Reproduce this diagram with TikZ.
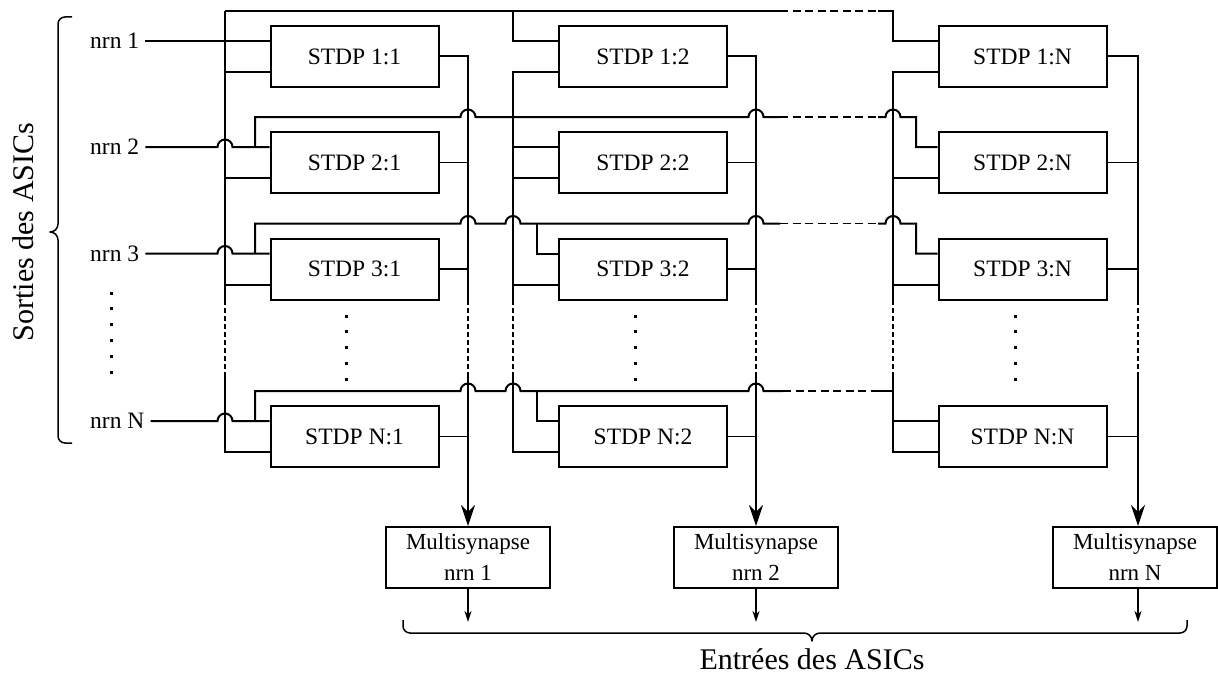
\documentclass[tikz,border=0pt]{standalone}
\usepackage{fontspec}
\setmainfont{Liberation Serif}
\usetikzlibrary{arrows.meta}
\tikzset{
  bigtip/.tip={Stealth[length=21pt,width=14pt,inset=7pt]},
  smalltip/.tip={Stealth[length=11pt,width=7pt,inset=3.5pt]},
  wire/.style={line width=2pt},
  thin wire/.style={line width=1.4pt},
  vgap/.style={line width=1.7pt,dash pattern=on 5pt off 3pt},
  hgap/.style={line width=1.8pt,dash pattern=on 8pt off 4.5pt},
  stdp/.style={draw,line width=2pt,minimum width=168pt,minimum height=61pt,inner sep=0pt,
    font=\fontsize{23.5}{28}\selectfont},
  msyn/.style={draw,line width=2pt,minimum width=164pt,minimum height=61pt,inner sep=0pt,
    align=center,font=\fontsize{23}{31}\selectfont},
  lbl/.style={anchor=west,inner sep=2pt,font=\fontsize{23.5}{28}\selectfont},
  big/.style={inner sep=0pt,font=\fontsize{30}{36}\selectfont},
  bracket/.style={line width=1.5pt,line join=round},
  % a small semicircular bridge where a wire crosses another without contact
  hop/.style 2 args={insert path={-- ({#1-7.5},#2) arc[start angle=180,end angle=0,radius=7.5pt]}}
}
\begin{document}
\begin{tikzpicture}[x=1pt,y=-1pt]
\useasboundingbox (0,0) rectangle (1218,677);

% ---------- STDP matrix ----------
\node[stdp] (s11) at (354.5,56.5) {STDP 1:1};
\node[stdp] (s12) at (643,56.5)   {STDP 1:2};
\node[stdp] (s1N) at (1022.5,56.5){STDP 1:N};
\node[stdp] (s21) at (354.5,162.5){STDP 2:1};
\node[stdp] (s22) at (643,162.5)  {STDP 2:2};
\node[stdp] (s2N) at (1022.5,162.5){STDP 2:N};
\node[stdp] (s31) at (354.5,269)  {STDP 3:1};
\node[stdp] (s32) at (643,269)    {STDP 3:2};
\node[stdp] (s3N) at (1022.5,269) {STDP 3:N};
\node[stdp] (sN1) at (354.5,436.5){STDP N:1};
\node[stdp] (sN2) at (643,436.5)  {STDP N:2};
\node[stdp] (sNN) at (1022.5,436.5){STDP N:N};

% ---------- multisynapse blocks ----------
\node[msyn] (m1) at (468,557.5)  {Multisynapse\\nrn 1};
\node[msyn] (m2) at (756,557.5)  {Multisynapse\\nrn 2};
\node[msyn] (mN) at (1135,557.5) {Multisynapse\\nrn N};

% ---------- neuron labels ----------
\node[lbl] (l1) at (88,41)    {nrn 1};
\node[lbl] (l2) at (88,147)   {nrn 2};
\node[lbl] (l3) at (88,253.5) {nrn 3};
\node[lbl] (lN) at (88,421)   {nrn N};

\node[big,rotate=90] (outs) at (23,232) {Sorties des ASICs};
\node[big] (ins) at (812,659) {Entrées des ASICs};

% output columns
\coordinate (o1) at (468,376);
\coordinate (o2) at (756,376);
\coordinate (oN) at (1138,376);
\coordinate (e1) at (468,622);
\coordinate (e2) at (756,622);
\coordinate (eN) at (1138,622);

% ---------- row 1 (nrn 1) ----------
\draw[wire] ([xshift=4pt]l1.east) -- ([yshift=15.5pt]s11.west);
\draw[wire] (225,11) -- (780,11);
\draw[hgap] (780,11) -- (878,11);
\draw[wire] (878,11) -- (893,11) |- ([yshift=15.5pt]s1N.west);
\draw[wire] (513,11) |- ([yshift=15.5pt]s12.west);
% column buses (post-synaptic inputs)
\draw[wire] (225,11) -- (225,300);
\draw[vgap] (225,300) -- (225,374);
\draw[wire] (225,374) |- ([yshift=-15.5pt]sN1.west);
\draw[wire] (225,72) -- ([yshift=-15.5pt]s11.west);
\draw[wire] ([yshift=-15.5pt]s12.west) -| (513,300);
\draw[vgap] (513,300) -- (513,374);
\draw[wire] (513,374) |- ([yshift=-15.5pt]sN2.west);
\draw[wire] ([yshift=-15.5pt]s1N.west) -| (893,300);
\draw[vgap] (893,300) -- (893,374);
\draw[wire] (893,374) |- ([yshift=-15.5pt]sNN.west);

% ---------- row 2 (nrn 2) ----------
\draw[wire] ([xshift=4pt]l2.east) [hop={225}{147}] -- ([yshift=15.5pt]s21.west);
\draw[wire] (255,147) -- (255,117) [hop={468}{117}] [hop={756}{117}] -- (780,117);
\draw[hgap] (780,117) -- (878,117);
\draw[wire] (878,117) [hop={893}{117}] -- (916,117) |- ([yshift=15.5pt]s2N.west);
\draw[wire] (513,147) -- ([yshift=15.5pt]s22.west);
\draw[wire] (225,178) -- ([yshift=-15.5pt]s21.west);
\draw[wire] (513,178) -- ([yshift=-15.5pt]s22.west);
\draw[wire] (893,178) -- ([yshift=-15.5pt]s2N.west);

% ---------- row 3 (nrn 3) ----------
\draw[wire] ([xshift=4pt]l3.east) [hop={225}{253.5}] -- ([yshift=15.5pt]s31.west);
\draw[wire] (255,253.5) -- (255,223.5) [hop={468}{223.5}] [hop={513}{223.5}] [hop={756}{223.5}] -- (780,223.5);
\draw[hgap] (780,223.5) -- (878,223.5);
\draw[wire] (878,223.5) [hop={893}{223.5}] -- (916,223.5) |- ([yshift=15.5pt]s3N.west);
\draw[wire] (537,223.5) |- ([yshift=15.5pt]s32.west);
\draw[wire] (225,284.5) -- ([yshift=-15.5pt]s31.west);
\draw[wire] (513,284.5) -- ([yshift=-15.5pt]s32.west);
\draw[wire] (893,284.5) -- ([yshift=-15.5pt]s3N.west);

% ---------- row N (nrn N) ----------
\draw[wire] ([xshift=4pt]lN.east) [hop={225}{421}] -- ([yshift=15.5pt]sN1.west);
\draw[wire] (255,421) -- (255,391) [hop={468}{391}] [hop={513}{391}] [hop={756}{391}] -- (783,391);
\draw[hgap] (783,391) -- (878,391);
\draw[wire] (878,391) -- (893,391);
\draw[wire] (537,391) |- ([yshift=15.5pt]sN2.west);
\draw[wire] (893,421) -- ([yshift=15.5pt]sNN.west);

% ---------- STDP outputs to the multisynapses ----------
\draw[wire] (s11.east) -| (468,300);
\draw[vgap] (468,300) -- (o1);
\draw[wire,-bigtip] (o1) -- (o1 |- m1.north);
\draw[wire] (s12.east) -| (756,300);
\draw[vgap] (756,300) -- (o2);
\draw[wire,-bigtip] (o2) -- (o2 |- m2.north);
\draw[wire] (s1N.east) -| (1138,300);
\draw[vgap] (1138,300) -- (oN);
\draw[wire,-bigtip] (oN) -- (oN |- mN.north);
\foreach \r in {2,3,N}{
  \draw[thin wire] (s\r1.east) -- (s\r1.east -| o1);
  \draw[thin wire] (s\r2.east) -- (s\r2.east -| o2);
  \draw[thin wire] (s\r N.east) -- (s\r N.east -| oN);
}

% multisynapse outputs
\draw[thin wire,-smalltip] (m1.south) -- (e1);
\draw[thin wire,-smalltip] (m2.south) -- (e2);
\draw[thin wire,-smalltip] (mN.south -| eN) -- (eN);

% ---------- ellipsis dots ----------
\foreach \x in {346.5,635.5,1015}{
  \foreach \y in {316,331.75,347.5,363.25,379}{
    \fill ({\x-1.5},{\y-1.5}) rectangle ++(3,3);
  }
}
\foreach \y in {293,308.8,324.6,340.4,356.2,372}{
  \fill (109.5,{\y-1.5}) rectangle ++(3,3);
}

% ---------- braces ----------
\draw[bracket] (72,17) -- (65,17) to[out=180,in=90] (58,24) -- (58,224)
  to[out=-90,in=0] (50,232) to[out=0,in=90] (58,240) -- (58,436)
  to[out=-90,in=180] (65,443) -- (72,443);
\draw[bracket] (403,620) -- (403,626) to[out=-90,in=180] (410,633) -- (804,633)
  to[out=0,in=90] (812,641) to[out=90,in=180] (820,633) -- (1180,633)
  to[out=0,in=-90] (1187,626) -- (1187,620);
\end{tikzpicture}
\end{document}
